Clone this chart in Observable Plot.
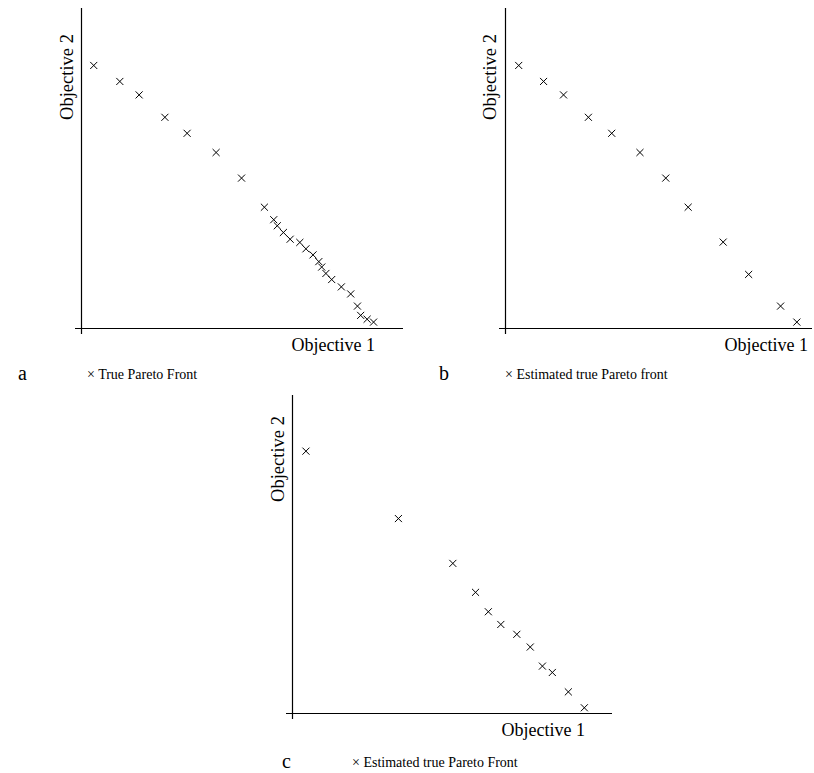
<!DOCTYPE html>
<html><head><meta charset="utf-8">
<script src="https://cdn.jsdelivr.net/npm/d3@7"></script>
<script src="https://cdn.jsdelivr.net/npm/@observablehq/plot@0.6"></script>
<style>
body{margin:0;background:#fff;}
#wrap{position:relative;width:814px;height:773px;font-family:"Liberation Serif","DejaVu Serif",serif;color:#000;overflow:hidden;}
.t{position:absolute;white-space:nowrap;line-height:1;font-family:"Liberation Serif","DejaVu Serif",serif;}
</style></head><body><div id="wrap"></div>
<script>
// Panel a: True Pareto Front (normalised 0-100 on both objectives)
const aX = [3.8, 11.9, 17.9, 25.9, 32.8, 41.8, 49.7, 56.8, 59.7, 60.8, 62.7, 64.8, 67.8, 69.7, 71.9, 73.7, 74.6, 75.9, 77.7, 80.7, 83.6, 85.7, 86.7, 88.7, 90.7];
const aY = [82.2, 77.2, 73.0, 66.0, 61.0, 55.0, 47.0, 37.9, 34.0, 32.1, 30.0, 27.9, 26.9, 24.9, 23.0, 20.9, 19.2, 17.2, 15.3, 13.0, 10.8, 7.0, 4.1, 2.9, 2.0];
// Panel b: Estimated true Pareto front
const bX = [4.3, 12.4, 18.9, 27.0, 34.6, 43.8, 52.2, 59.5, 70.9, 79.2, 89.6, 94.9];
const bY = [82.2, 77.2, 73.0, 66.0, 61.0, 55.0, 47.0, 37.9, 27.0, 16.9, 7.0, 2.0];
// Panel c: Estimated true Pareto Front
const cX = [4.2, 33.1, 50.1, 57.2, 61.2, 65.1, 70.1, 74.3, 78.1, 81.2, 86.2, 91.2];
const cY = [82.5, 61.3, 47.2, 38.1, 32.0, 28.0, 24.9, 20.9, 14.9, 12.9, 6.8, 1.8];

const letters = ["a", "b", "c"];
const legends = ["True Pareto Front", "Estimated true Pareto front", "Estimated true Pareto Front"];
const xLabel = "Objective 1";
const yLabel = "Objective 2";

const layout = [
  {left: 75, top: 8, ox: 81, oy: 328, right: 403, bottom: 334, x1r: 375, y2cx: 67, y2cy: 77, letX: 18, legX: 87, rowY: 380},
  {left: 499, top: 8, ox: 505, oy: 328, right: 812, bottom: 334, x1r: 808, y2cx: 490, y2cy: 77, letX: 439, legX: 505, rowY: 380},
  {left: 286, top: 395, ox: 292, oy: 713, right: 612, bottom: 719, x1r: 585, y2cx: 278, y2cy: 459, letX: 282, legX: 352, rowY: 768}
];
const series = [[aX, aY], [bX, bY], [cX, cY]];

const wrap = document.getElementById("wrap");
function addText(txt, x, baseline, size) {
  const d = document.createElement("div");
  d.className = "t";
  d.textContent = txt;
  d.style.fontSize = size + "px";
  d.style.left = x + "px";
  d.style.top = (baseline - size * 0.837) + "px";
  wrap.appendChild(d);
  return d;
}

layout.forEach((p, i) => {
  const [xs, ys] = series[i];
  const data = xs.map((x, k) => ({x, y: ys[k]}));
  const fw = p.right - p.left, fh = p.bottom - p.top;
  const xpx = p.right - p.ox, ypx = p.oy - p.top;
  const xd = [-(p.ox - p.left) / xpx * 100, 100];
  const yd = [-(p.bottom - p.oy) / ypx * 100, 100];
  const svg = Plot.plot({
    width: fw + 2, height: fh + 2,
    marginLeft: 1, marginRight: 1, marginTop: 1, marginBottom: 1,
    x: {domain: xd, axis: null},
    y: {domain: yd, axis: null},
    style: {background: "transparent", overflow: "visible"},
    marks: [
      Plot.ruleX([0], {stroke: "#000", strokeWidth: 1.2}),
      Plot.ruleY([0], {stroke: "#000", strokeWidth: 1.2}),
      Plot.dot(data, {x: "x", y: "y", symbol: "times", r: 3.3, stroke: "#000", strokeWidth: 1})
    ]
  });
  svg.style.position = "absolute";
  svg.style.left = (p.left - 1) + "px";
  svg.style.top = (p.top - 1) + "px";
  wrap.appendChild(svg);

  const xl = addText(xLabel, 0, p.oy + 23, 18);
  xl.style.left = "auto";
  xl.style.right = (814 - p.x1r) + "px";
  const yl = document.createElement("div");
  yl.className = "t";
  yl.textContent = yLabel;
  yl.style.fontSize = "18.5px";
  yl.style.left = p.y2cx + "px";
  yl.style.top = p.y2cy + "px";
  yl.style.transform = "translate(-50%,-50%) rotate(-90deg)";
  wrap.appendChild(yl);
  addText(letters[i], p.letX, p.rowY, 20);
  addText("\u00d7 " + legends[i], p.legX, p.rowY, 14);
});
</script></body></html>
